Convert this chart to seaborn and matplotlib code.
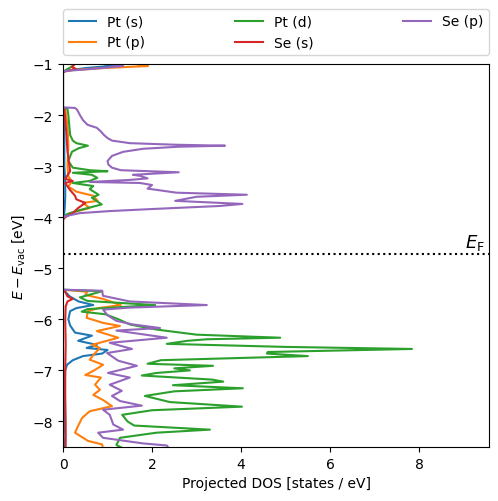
import numpy as np
import pandas as pd
import matplotlib
matplotlib.use("Agg")
import matplotlib.pyplot as plt
import seaborn as sns

# Projected DOS (energy in eV, DOS in states/eV)
e_pt_s = [-0.9, -0.97, -1.03, -1.08, -1.13, -1.16, -1.85, -1.9, -2.5, -3.0, -3.3, -3.6, -3.8, -4.0, -4.05,
          -5.42, -5.46, -5.55, -5.65, -5.72, -5.78, -5.84, -6.0, -6.12, -6.26, -6.32, -6.42, -6.5, -6.56,
          -6.6, -6.67, -6.72, -6.8, -6.89, -7.0, -7.5, -8.0, -8.3, -8.5, -8.6]
d_pt_s = [0.3, 0.6, 1.2, 0.5, 0.1, 0, 0, 0.02, 0.03, 0.03, 0.05, 0.05, 0.04, 0.02, 0,
          0, 0.05, 0.15, 0.35, 0.68, 0.3, 0.16, 0.12, 0.16, 0.27, 0.65, 0.34, 0.76, 0.53,
          1.0, 0.88, 0.45, 0.22, 0.09, 0.05, 0.03, 0.04, 0.05, 0.04, 0.04]

e_pt_p = [-0.9, -0.95, -1.0, -1.04, -1.08, -1.12, -1.15, -1.85, -1.9, -2.2, -2.6, -3.0, -3.2, -3.3, -3.4,
          -3.5, -3.58, -3.68, -3.72, -3.82, -3.92, -4.0, -4.05,
          -5.42, -5.46, -5.52, -5.6, -5.72, -5.78, -5.84, -5.97, -6.07, -6.13, -6.23, -6.36, -6.5, -6.56,
          -6.68, -6.79, -6.89, -7.0, -7.09, -7.14, -7.28, -7.38, -7.48, -7.58, -7.7, -7.8, -7.93, -8.05,
          -8.16, -8.22, -8.38, -8.45, -8.55]
d_pt_p = [1.0, 1.4, 1.65, 1.91, 0.9, 0.2, 0, 0, 0.05, 0.1, 0.12, 0.1, 0.12, 0.2, 0.12,
          0.3, 0.68, 0.78, 0.45, 0.6, 0.16, 0.03, 0,
          0, 0.55, 0.5, 0.9, 1.3, 0.8, 0.56, 0.53, 0.9, 1.28, 0.76, 1.24, 0.65, 0.83,
          0.7, 0.6, 0.9, 0.7, 0.5, 0.85, 0.72, 0.83, 0.68, 0.9, 1.1, 0.6, 0.43, 0.36,
          0.3, 0.27, 0.56, 0.88, 0.9]

e_pt_d = [-0.9, -1.0, -1.05, -1.1, -1.15, -1.85, -1.88, -2.0, -2.2, -2.39, -2.5, -2.55, -2.6, -2.65, -2.72,
          -2.9, -3.03, -3.08, -3.1, -3.13, -3.17, -3.23, -3.29, -3.33, -3.39, -3.45, -3.56, -3.62, -3.68,
          -3.75, -3.86, -3.94, -4.01,
          -5.42, -5.45, -5.57, -5.64, -5.72, -5.8, -5.85, -5.9, -6.0, -6.1, -6.2, -6.3, -6.36, -6.39,
          -6.42, -6.48, -6.54, -6.58, -6.64, -6.67, -6.72, -6.8, -6.87, -6.91, -6.96, -7.0, -7.05, -7.1,
          -7.18, -7.22, -7.29, -7.35, -7.41, -7.5, -7.62, -7.71, -7.78, -7.87, -8.0, -8.08, -8.16, -8.22,
          -8.32, -8.46, -8.55]
d_pt_d = [0.3, 0.25, 0.2, 0.1, 0, 0, 0.1, 0.12, 0.14, 0.16, 0.22, 0.3, 0.56, 0.35, 0.2,
          0.12, 0.22, 0.6, 1.0, 0.22, 0.65, 0.77, 0.6, 0.22, 0.68, 0.6, 0.8, 0.65, 0.75,
          0.87, 0.38, 0.09, 0,
          0, 0.88, 0.38, 0.55, 2.07, 0.55, 0.42, 0.95, 1.25, 1.5, 2.1, 3.0, 4.88, 3.24,
          2.8, 2.33, 5.0, 7.84, 4.6, 4.58, 5.5, 2.2, 1.9, 3.37, 2.5, 2.85, 2.1, 1.77,
          3.35, 3.6, 2.47, 4.04, 2.5, 1.84, 2.4, 4.02, 2.0, 1.33, 1.45, 1.6, 3.3, 2.1,
          1.28, 1.2, 1.4]

e_se_s = [-0.9, -0.97, -1.02, -1.06, -1.1, -1.15, -1.85, -1.9, -2.3, -2.7, -3.1, -3.25, -3.29, -3.33,
          -3.47, -3.58, -3.65, -3.72, -3.82, -3.92, -4.0, -4.05,
          -5.42, -5.46, -5.55, -5.6, -5.65, -5.75, -6.0, -6.5, -7.0, -7.5, -8.0, -8.5, -8.6]
d_se_s = [0.1, 0.22, 0.25, 0.2, 0.3, 0, 0, 0.03, 0.07, 0.1, 0.16, 0.05, 0.22, 0.05,
          0.16, 0.27, 0.3, 0.5, 0.34, 0.22, 0.05, 0,
          0, 0.05, 0.1, 0.22, 0.1, 0.06, 0.05, 0.06, 0.05, 0.05, 0.06, 0.06, 0.06]

e_se_p = [-0.9, -0.97, -1.04, -1.1, -1.14, -1.18, -1.85, -1.86, -1.9, -2.0, -2.1, -2.19, -2.25, -2.32,
          -2.39, -2.45, -2.5, -2.55, -2.58, -2.6, -2.62, -2.66, -2.72, -2.8, -2.9, -2.97, -3.03, -3.08,
          -3.12, -3.17, -3.19, -3.24, -3.27, -3.31, -3.33,
          -3.37, -3.44, -3.52, -3.56, -3.6, -3.68, -3.74, -3.78, -3.84, -3.88, -3.92, -3.98, -4.02,
          -5.42, -5.44, -5.5, -5.54, -5.65, -5.72, -5.77, -5.81, -5.92, -6.03, -6.1, -6.17, -6.22, -6.36,
          -6.46, -6.58, -6.66, -6.81, -6.91, -7.05, -7.14, -7.28, -7.4, -7.5, -7.6, -7.69, -7.77, -7.87,
          -8.06, -8.16, -8.22, -8.32, -8.43, -8.47, -8.55]
d_se_p = [0.5, 0.8, 1.35, 0.6, 0.0, 0, 0, 0.27, 0.32, 0.38, 0.45, 0.55, 0.76, 0.85,
          0.92, 1.0, 1.1, 1.5, 2.5, 3.64, 2.6, 1.8, 1.35, 1.1, 1.0, 1.02, 1.1, 1.3,
          2.6, 1.57, 1.73, 1.9, 1.5, 0.6, 1.73,
          2.0, 1.9, 2.55, 4.13, 3.0, 2.52, 4.03, 3.53, 2.0, 1.05, 0.38, 0.05, 0,
          0, 0.88, 0.89, 0.9, 1.5, 3.23, 1.5, 0.9, 1.0, 1.2, 1.57, 2.18, 1.2, 2.33,
          1.05, 1.55, 0.99, 1.24, 1.66, 1.01, 1.5, 1.05, 1.32, 1.1, 1.28, 1.77, 0.9, 1.05,
          1.13, 1.35, 0.79, 0.9, 1.8, 2.33, 2.4]

labels = ["Pt (s)", "Pt (p)", "Pt (d)", "Se (s)", "Se (p)"]
e_fermi = -4.72

series = [(e_pt_s, d_pt_s), (e_pt_p, d_pt_p), (e_pt_d, d_pt_d), (e_se_s, d_se_s), (e_se_p, d_se_p)]
frames = []
for lab, (e, d) in zip(labels, series):
    frames.append(pd.DataFrame({"E": e, "DOS": d, "orbital": lab}))
df = pd.concat(frames, ignore_index=True)

fig = plt.figure(figsize=(4.98, 5.02), dpi=100)
ax = fig.add_axes([63 / 498, 1 - 448 / 502, 426 / 498, 383 / 502])

sns.lineplot(data=df, x="DOS", y="E", hue="orbital", hue_order=labels,
             palette=sns.color_palette("tab10", 5), orient="y", estimator=None,
             linewidth=1.5, ax=ax)

ax.axhline(e_fermi, color="k", linestyle=":")
ax.text(9.48, e_fermi + 0.03, r"$E_\mathrm{F}$", ha="right", va="bottom", fontsize=13)

ax.set_xlim(0, 9.57)
ax.set_ylim(-8.5, -1)
ax.set_xticks([0, 2, 4, 6, 8])
ax.set_xlabel("Projected DOS [states / eV]")
ax.set_ylabel(r"$E - E_\mathrm{vac}$ [eV]")

sns.move_legend(ax, "lower left", bbox_to_anchor=(0, 1.0235, 1, 0.1), mode="expand",
                ncol=3, title=None, borderaxespad=0, frameon=True)

fig.savefig("out.png", dpi=100)
